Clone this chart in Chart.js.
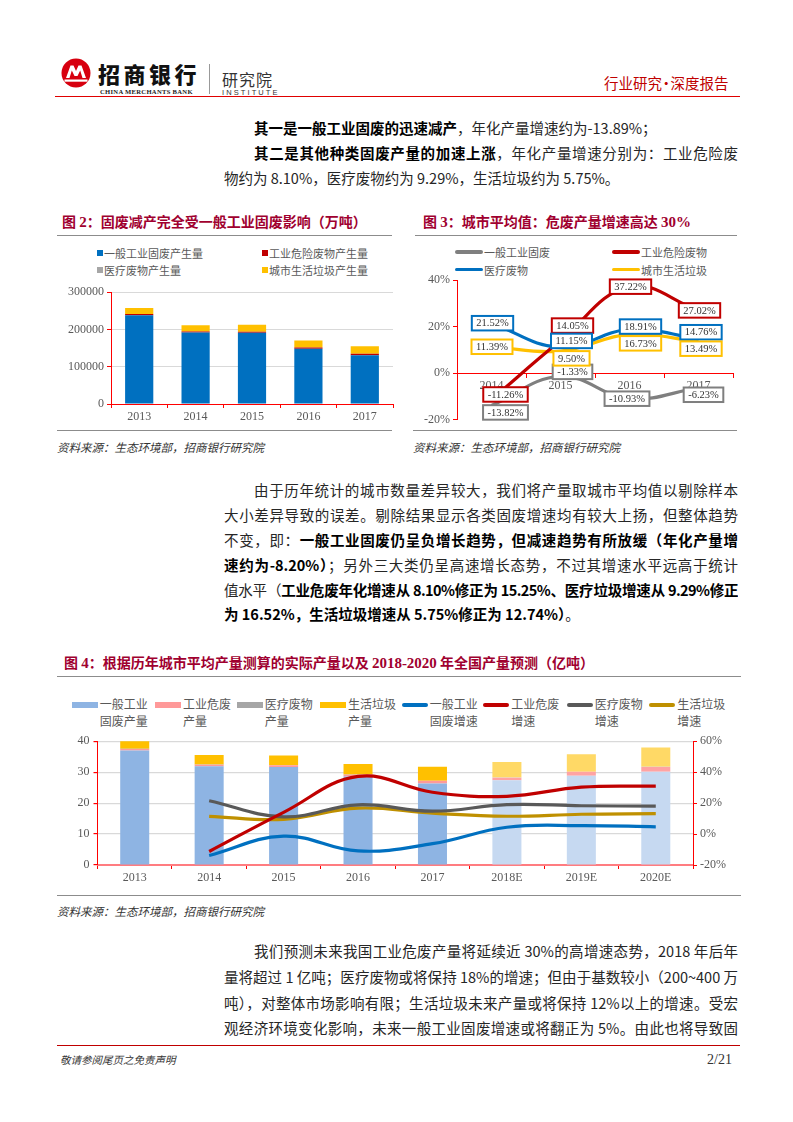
<!DOCTYPE html>
<html><head><meta charset="utf-8">
<script src="https://cdn.jsdelivr.net/npm/chart.js@4.4.1/dist/chart.umd.min.js"></script>
<style>
body{margin:0;background:#fff;}
#page{position:relative;width:793px;height:1122px;overflow:hidden;font-family:"Noto Sans CJK SC",sans-serif;color:#222;background:#fff;}
.abs{position:absolute;white-space:nowrap;}
.ln{position:absolute;left:224px;width:514px;height:24px;line-height:24px;font-size:14.5px;overflow:hidden;color:#262626;}
.j{text-align:justify;text-align-last:justify;}
.ind{padding-left:30px;box-sizing:border-box;}
.ln b{font-weight:700;color:#000;}
.title{position:absolute;font-size:14px;font-weight:700;color:#A0002F;white-space:nowrap;line-height:18px;}
.title .n{font-family:"Liberation Serif",serif;font-weight:700;font-size:15px;}
.hr{position:absolute;height:0;border-top:1.5px solid #8c8c8c;}
.src{position:absolute;font-size:11.5px;font-style:italic;color:#333;white-space:nowrap;line-height:14px;}
.leg{position:absolute;font-size:11px;color:#595959;white-space:nowrap;line-height:14px;}
.mk{position:absolute;}
canvas{position:absolute;}
</style></head>
<body><div id="page">

<!-- header -->
<svg class="abs" style="left:61px;top:58px" width="30" height="30" viewBox="0 0 30 30">
<circle cx="15" cy="15" r="14.5" fill="#D7000F"/>
<path d="M5 20 L9.5 7.5 L12.5 7.5 L15 13 L17.5 7.5 L20.5 7.5 L25 20 L21.5 20 L19.2 12.5 L16.5 18 L13.5 18 L10.8 12.5 L8.5 20 Z" fill="#fff"/>
<rect x="3.5" y="21.5" width="23" height="2.2" fill="#fff"/>
</svg>
<div class="abs" style="left:98px;top:59px;font-size:22px;font-weight:900;letter-spacing:3.5px;color:#111;line-height:28px;">招商银行</div>
<div class="abs" style="left:100px;top:87px;font-size:6.6px;font-weight:700;font-family:'Liberation Serif',serif;color:#222;letter-spacing:0.3px;line-height:9px;">CHINA MERCHANTS BANK</div>
<div class="abs" style="left:209px;top:64px;width:1px;height:30px;background:#999;"></div>
<div class="abs" style="left:222px;top:68px;font-size:16px;color:#333;letter-spacing:1px;line-height:22px;">研究院</div>
<div class="abs" style="left:222px;top:88px;font-size:7.5px;color:#333;letter-spacing:2.1px;line-height:9px;font-family:'Liberation Sans',sans-serif;">INSTITUTE</div>
<div class="abs" style="left:604px;top:74px;font-size:14.5px;color:#C00000;line-height:18px;">行业研究<span style="margin:0 -3px;">•</span>深度报告</div>
<div class="abs" style="left:55px;top:95.5px;width:685px;height:1.5px;background:#E00000;"></div>

<!-- paragraph 1 -->
<div class="ln ind" style="top:116px;"><b>其一是一般工业固废的迅速减产</b>，年化产量增速约为-13.89%；</div>
<div class="ln ind j" style="top:141px;"><b>其二是其他种类固废产量的加速上涨</b>，年化产量增速分别为：工业危险废</div>
<div class="ln" style="top:166px;">物约为 8.10%，医疗废物约为 9.29%，生活垃圾约为 5.75%。</div>

<!-- chart 2 -->
<div class="title" style="left:62px;top:212px;">图 <span class="n">2</span>：固废减产完全受一般工业固废影响（万吨）</div>
<div class="hr" style="left:57px;top:234.5px;width:335px;"></div>
<div id="leg2"></div>
<canvas id="c2" width="343" height="146" style="left:57px;top:282px;"></canvas>
<div class="hr" style="left:57px;top:430px;width:335px;"></div>
<div class="src" style="left:57px;top:440px;">资料来源：生态环境部，招商银行研究院</div>

<!-- chart 3 -->
<div class="title" style="left:423px;top:212px;">图 <span class="n">3</span>：城市平均值：危废产量增速高达 <span class="n">30%</span></div>
<div class="hr" style="left:415px;top:234.5px;width:322px;"></div>
<div id="leg3"></div>
<canvas id="c3" width="330" height="160" style="left:415px;top:270px;"></canvas>
<div class="hr" style="left:413px;top:430px;width:324px;"></div>
<div class="src" style="left:413px;top:440px;">资料来源：生态环境部，招商银行研究院</div>

<!-- paragraph 2 -->
<div class="ln ind j" style="top:478px;">由于历年统计的城市数量差异较大，我们将产量取城市平均值以剔除样本</div>
<div class="ln j" style="top:503px;">大小差异导致的误差。剔除结果显示各类固废增速均有较大上扬，但整体趋势</div>
<div class="ln j" style="top:528px;">不变，即：<b>一般工业固废仍呈负增长趋势，但减速趋势有所放缓（年化产量增</b></div>
<div class="ln j" style="top:553px;"><b>速约为-8.20%）</b>；另外三大类仍呈高速增长态势，不过其增速水平远高于统计</div>
<div class="ln j" style="top:578px;letter-spacing:-0.6px;">值水平（<b>工业危废年化增速从 8.10%修正为 15.25%、医疗垃圾增速从 9.29%修正</b></div>
<div class="ln" style="top:602px;"><b>为 16.52%，生活垃圾增速从 5.75%修正为 12.74%）</b>。</div>

<!-- chart 4 -->
<div class="title" style="left:64px;top:653px;">图 <span class="n">4</span>：根据历年城市平均产量测算的实际产量以及 <span class="n">2018-2020</span> 年全国产量预测（亿吨）</div>
<div class="hr" style="left:57px;top:675.5px;width:684px;"></div>
<div id="leg4"></div>
<canvas id="c4" width="690" height="157" style="left:57px;top:730px;"></canvas>
<div class="hr" style="left:57px;top:895px;width:684px;"></div>
<div class="src" style="left:57px;top:904px;">资料来源：生态环境部，招商银行研究院</div>

<!-- paragraph 3 -->
<div class="ln ind j" style="top:939px;">我们预测未来我国工业危废产量将延续近 30%的高增速态势，2018 年后年产</div>
<div class="ln j" style="top:965px;">量将超过 1 亿吨；医疗废物或将保持 18%的增速；但由于基数较小（200~400 万</div>
<div class="ln j" style="top:991px;">吨），对整体市场影响有限；生活垃圾未来产量或将保持 12%以上的增速。受宏</div>
<div class="ln j" style="top:1016px;">观经济环境变化影响，未来一般工业固废增速或将翻正为 5%。由此也将导致固</div>

<!-- footer -->
<div class="abs" style="left:57px;top:1044.5px;width:683px;height:1px;background:#C00000;"></div>
<div class="abs" style="left:60px;top:1053px;font-size:10.5px;font-style:italic;color:#333;line-height:14px;">敬请参阅尾页之免责声明</div>
<div class="abs" style="left:707px;top:1051px;font-size:14px;font-family:'Liberation Serif',serif;color:#333;line-height:18px;">2/21</div>

</div>
<script>
// ---------- Chart 2 data (万吨) ----------
const years2 = ['2013', '2014', '2015', '2016', '2017'];
const general2 = [238000, 192000, 191000, 148000, 131000];
const hazard2 = [3200, 2600, 2800, 3300, 4000];
const medical2 = [60, 60, 70, 70, 80];
const msw2 = [16100, 16800, 18600, 18900, 20200];
const names2 = ['一般工业固废产生量', '工业危险废物产生量', '医疗废物产生量', '城市生活垃圾产生量'];
const yTicks2 = [0, 100000, 200000, 300000];

// ---------- Chart 3 data (%) ----------
const years3 = ['2014', '2015', '2016', '2017'];
const growthGeneral3 = [-13.82, -1.33, -10.93, -6.23];
const growthHazard3 = [-11.26, 14.05, 37.22, 27.02];
const growthMedical3 = [21.52, 11.15, 18.91, 14.76];
const growthMsw3 = [11.39, 9.50, 16.73, 13.49];
const names3 = ['一般工业固废', '工业危险废物', '医疗废物', '城市生活垃圾'];

// ---------- Chart 4 data ----------
const years4 = ['2013', '2014', '2015', '2016', '2017', '2018E', '2019E', '2020E'];
const outGeneral4 = [37.0, 31.9, 31.7, 28.6, 26.3, 27.4, 28.8, 30.1];
const outHazard4 = [0.5, 0.5, 0.5, 0.6, 0.9, 0.8, 1.3, 1.6];
const outMedical4 = [0.05, 0.05, 0.05, 0.05, 0.05, 0.05, 0.06, 0.06];
const outMsw4 = [3.0, 3.1, 3.1, 3.4, 4.5, 5.0, 5.6, 6.2];
const grGeneral4 = [null, -13.82, -1.33, -10.93, -6.23, 4.4, 5.5, 4.7];
const grHazard4 = [null, -11.26, 14.05, 37.22, 27.02, 24.4, 30.3, 31.0];
const grMedical4 = [null, 21.52, 11.15, 18.91, 14.76, 19.0, 18.3, 18.0];
const grMsw4 = [null, 11.39, 9.50, 16.73, 13.49, 11.5, 12.8, 13.2];
const isForecast4 = [false, false, false, false, false, true, true, true];
const names4 = ['一般工业\n固废产量', '工业危废\n产量', '医疗废物\n产量', '生活垃圾\n产量',
                '一般工业\n固废增速', '工业危废\n增速', '医疗废物\n增速', '生活垃圾\n增速'];

// ---------- styles ----------
Chart.defaults.font.family = "'Liberation Serif', serif";
Chart.defaults.font.size = 12;
Chart.defaults.color = '#595959';
const RED_AXIS = '#FF0000';
const GRID = '#D9D9D9';

function fixW(w){ return s => { s.width = w; }; }
function fixH(h){ return s => { s.height = h; }; }

// ---------- Chart 2 ----------
const colors2 = ['#0070C0', '#C00000', '#A6A6A6', '#FFC000'];
const data2 = [general2, hazard2, medical2, msw2];
new Chart(document.getElementById('c2'), {
  type: 'bar',
  data: {
    labels: years2,
    datasets: data2.map((d, i) => ({ label: names2[i], data: d, backgroundColor: colors2[i],
      barPercentage: 0.5, categoryPercentage: 1.0, borderWidth: 0 }))
  },
  options: {
    responsive: false, animation: false,
    layout: { padding: { top: 7, right: 7, left: 0, bottom: 0 } },
    plugins: { legend: { display: false }, tooltip: { enabled: false } },
    scales: {
      x: { stacked: true, afterFit: fixH(24),
        grid: { drawOnChartArea: false, drawTicks: true, tickLength: 4, tickColor: RED_AXIS, offset: true },
        border: { color: RED_AXIS, width: 1 },
        ticks: { padding: 2, font: { size: 12 } } },
      y: { stacked: true, min: 0, max: 300000, afterFit: fixW(54),
        afterBuildTicks: s => { s.ticks = yTicks2.map(v => ({ value: v })); },
        grid: { color: GRID, tickColor: RED_AXIS, tickLength: 4 },
        border: { color: RED_AXIS, width: 1 },
        ticks: { padding: 3, callback: v => String(v), font: { size: 12 } } }
    }
  }
});

// legend 2 (HTML)
(function(){
  const pos = [[97, 253], [262, 253], [97, 270], [262, 270]];
  let h = '';
  names2.forEach((n, i) => {
    h += `<div class="mk" style="left:${pos[i][0]}px;top:${pos[i][1]-3}px;width:6px;height:6px;background:${colors2[i]}"></div>`;
    h += `<div class="leg" style="left:${pos[i][0]+7}px;top:${pos[i][1]-7}px;">${n}</div>`;
  });
  document.getElementById('leg2').innerHTML = h;
})();

// ---------- Chart 3 ----------
const colors3 = ['#7F7F7F', '#C00000', '#0070C0', '#FFC000'];
const data3 = [growthGeneral3, growthHazard3, growthMedical3, growthMsw3];
const labelOffsets3 = [
  [[14, 7], [12, -4.5], [-2.5, 0], [5, 7]],
  [[14, -5], [12, -15], [1, 0], [1, 0]],
  [[1, 0], [11, -6.4], [11, -2.7], [2.5, -6.7]],
  [[0.5, 0], [11, 7.2], [11, 9], [2.5, 6.8]]
];
const boxLabels = {
  id: 'boxLabels',
  afterDatasetsDraw(chart) {
    const ctx = chart.ctx;
    ctx.save();
    ctx.font = "10.5px 'Liberation Serif', serif";
    ctx.textAlign = 'center'; ctx.textBaseline = 'middle';
    chart.data.datasets.forEach((ds, di) => {
      const meta = chart.getDatasetMeta(di);
      meta.data.forEach((pt, i) => {
        const txt = ds.data[i].toFixed(2) + '%';
        const off = labelOffsets3[di][i];
        const cx = pt.x + off[0], cy = pt.y + off[1];
        const w = ctx.measureText(txt).width + 9, h = 14.5;
        ctx.fillStyle = '#fff';
        ctx.fillRect(cx - w / 2, cy - h / 2, w, h);
        ctx.strokeStyle = ds.borderColor; ctx.lineWidth = 2;
        ctx.strokeRect(cx - w / 2, cy - h / 2, w, h);
        ctx.fillStyle = '#333';
        ctx.fillText(txt, cx, cy + 0.5);
      });
    });
    ctx.restore();
  }
};
new Chart(document.getElementById('c3'), {
  type: 'line',
  data: {
    labels: years3,
    datasets: data3.map((d, i) => ({ label: names3[i], data: d, borderColor: colors3[i],
      borderWidth: 3.2, pointRadius: 0, tension: 0.4, fill: false }))
  },
  options: {
    responsive: false, animation: false,
    layout: { padding: { top: 7.7, right: 12, left: 0, bottom: 7.7 } },
    plugins: { legend: { display: false }, tooltip: { enabled: false } },
    scales: {
      x: { type: 'category', offset: true, position: { y: 0 },
        grid: { drawOnChartArea: false, drawTicks: true, tickLength: 4, tickColor: RED_AXIS, offset: true },
        border: { color: RED_AXIS, width: 1 },
        ticks: { padding: 1, font: { size: 12 } } },
      y: { min: -20, max: 40, afterFit: fixW(42),
        ticks: { stepSize: 20, callback: v => v + '%', padding: 3, font: { size: 12 } },
        grid: { drawOnChartArea: false, drawTicks: true, tickLength: 4, tickColor: RED_AXIS },
        border: { color: RED_AXIS, width: 1 } }
    }
  },
  plugins: [boxLabels]
});

// legend 3 (HTML)
(function(){
  const pos = [[455, 252], [612, 252], [455, 269.5], [612, 269.5]];
  let h = '';
  names3.forEach((n, i) => {
    h += `<div class="mk" style="left:${pos[i][0]}px;top:${pos[i][1]-1.7}px;width:28px;height:3.4px;border-radius:2px;background:${colors3[i]}"></div>`;
    h += `<div class="leg" style="left:${pos[i][0]+29}px;top:${pos[i][1]-7}px;">${n}</div>`;
  });
  document.getElementById('leg3').innerHTML = h;
})();

// ---------- Chart 4 ----------
const barCol4 = [
  ['#8EB4E3', '#C6D9F1'],
  ['#FF9999', '#FFA3A3'],
  ['#A6A6A6', '#C8C8C8'],
  ['#FFC000', '#FFD966']
];
const lineCol4 = ['#0070C0', '#C00000', '#595959', '#BF9000'];
const bars4 = [outGeneral4, outHazard4, outMedical4, outMsw4];
const lines4 = [grGeneral4, grHazard4, grMedical4, grMsw4];
const ds4 = [];
lines4.forEach((d, i) => ds4.push({ type: 'line', label: names4[4 + i].replace('\n', ''), data: d,
  yAxisID: 'y1', borderColor: lineCol4[i], borderWidth: 3.2, pointRadius: 0, tension: 0.4, order: 0, fill: false }));
bars4.forEach((d, i) => ds4.push({ type: 'bar', label: names4[i].replace('\n', ''), data: d, yAxisID: 'y',
  backgroundColor: isForecast4.map(f => barCol4[i][f ? 1 : 0]), barPercentage: 0.78, categoryPercentage: 0.5,
  borderWidth: 0, order: 1, stack: 's' }));
new Chart(document.getElementById('c4'), {
  type: 'bar',
  data: { labels: years4, datasets: ds4 },
  options: {
    responsive: false, animation: false,
    layout: { padding: { top: 8.3, right: 0, left: 0, bottom: 0 } },
    plugins: { legend: { display: false }, tooltip: { enabled: false } },
    scales: {
      x: { stacked: true, afterFit: fixH(22),
        grid: { drawOnChartArea: false, drawTicks: true, tickLength: 4, tickColor: RED_AXIS, offset: true },
        border: { color: '#FF7C80', width: 2 },
        ticks: { padding: 2, font: { size: 12 } } },
      y: { stacked: true, min: 0, max: 40, position: 'left', afterFit: fixW(40.5),
        ticks: { stepSize: 10, padding: 4, font: { size: 12 } },
        grid: { color: GRID, lineWidth: 1.2, tickColor: RED_AXIS, tickLength: 4 },
        border: { color: RED_AXIS, width: 1 } },
      y1: { min: -20, max: 60, position: 'right', afterFit: fixW(54),
        ticks: { stepSize: 20, callback: v => v + '%', padding: 3, font: { size: 12 } },
        grid: { drawOnChartArea: false, tickColor: RED_AXIS, tickLength: 4 },
        border: { color: RED_AXIS, width: 1 } }
    }
  }
});

// legend 4 (HTML)
(function(){
  const xs = [71.7, 155, 236.7, 320, 401.7, 483.3, 566.7, 649.3];
  const mkCols = [barCol4[0][0], barCol4[1][0], barCol4[2][0], barCol4[3][0]].concat(lineCol4);
  let h = '';
  names4.forEach((n, i) => {
    const isLine = i >= 4;
    const th = isLine ? 3.6 : 5.5;
    h += `<div class="mk" style="left:${xs[i]}px;top:${705 - th/2}px;width:26px;height:${th}px;${isLine ? 'border-radius:2px;' : ''}background:${mkCols[i]}"></div>`;
    h += `<div class="leg" style="left:${xs[i]+28}px;top:696px;font-size:12px;line-height:16.7px;">${n.replace('\n', '<br>')}</div>`;
  });
  document.getElementById('leg4').innerHTML = h;
})();
</script>
</body></html>
